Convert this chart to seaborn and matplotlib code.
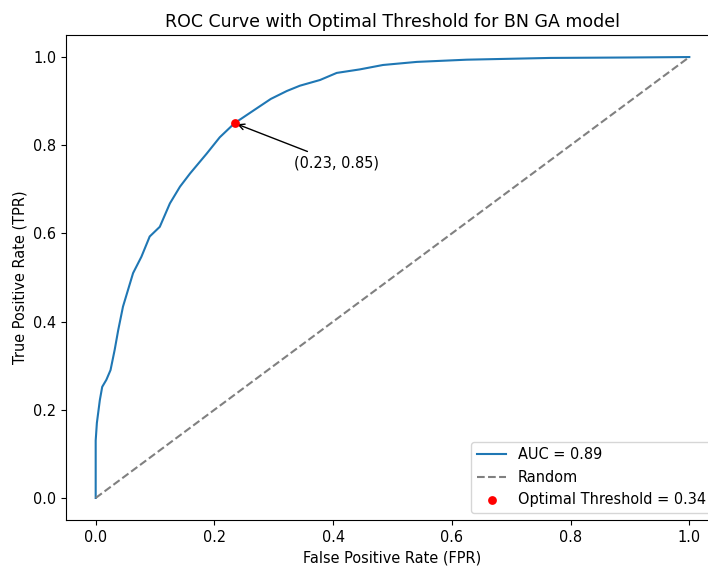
import matplotlib
matplotlib.use("Agg")
import matplotlib.pyplot as plt
import seaborn as sns

# ROC curve points
fpr = [0.0, 0.0, 0.001, 0.002, 0.007, 0.011, 0.018, 0.025, 0.032, 0.038,
       0.046, 0.063, 0.077, 0.091, 0.108, 0.125, 0.142, 0.159, 0.187, 0.209,
       0.234, 0.265, 0.295, 0.322, 0.344, 0.378, 0.406, 0.445, 0.484, 0.541,
       0.625, 0.766, 0.9, 1.0]
tpr = [0.0, 0.13, 0.15, 0.17, 0.222, 0.252, 0.268, 0.290, 0.336, 0.381,
       0.434, 0.510, 0.547, 0.593, 0.615, 0.668, 0.706, 0.736, 0.781, 0.818,
       0.850, 0.878, 0.905, 0.923, 0.935, 0.948, 0.964, 0.972, 0.982, 0.989,
       0.994, 0.998, 0.999, 1.0]
random_x = [0, 1]
random_y = [0, 1]

auc_value = 0.89
opt_threshold = 0.34
opt_fpr = 0.234
opt_tpr = 0.850

# reference text is a touch larger than the 10pt default
plt.rcParams["font.size"] = 10.45

fig = plt.figure(figsize=(7.08, 5.67), dpi=100)
# axes runs a bit past the right edge, like the cropped reference
ax = fig.add_axes([66 / 708, 47 / 567, 653 / 708, 485 / 567])

sns.lineplot(x=fpr, y=tpr, estimator=None, sort=False, color="#1f77b4",
             label=f"AUC = {auc_value:.2f}", ax=ax)
sns.lineplot(x=random_x, y=random_y, estimator=None, color="gray",
             linestyle="--", label="Random", ax=ax)
sns.scatterplot(x=[opt_fpr], y=[opt_tpr], color="red", s=40, linewidth=0,
                zorder=5, label=f"Optimal Threshold = {opt_threshold:.2f}", ax=ax)

ax.annotate(f"({opt_fpr:.2f}, {opt_tpr:.2f})", xy=(opt_fpr, opt_tpr),
            xytext=(opt_fpr + 0.1, opt_tpr - 0.1),
            arrowprops=dict(facecolor="black", arrowstyle="->"))

ax.set_xlabel("False Positive Rate (FPR)")
ax.set_ylabel("True Positive Rate (TPR)")
ax.set_title("ROC Curve with Optimal Threshold for BN GA model", fontsize=12.5)
ax.legend(loc="lower right")

fig.savefig("out.png", dpi=100)
